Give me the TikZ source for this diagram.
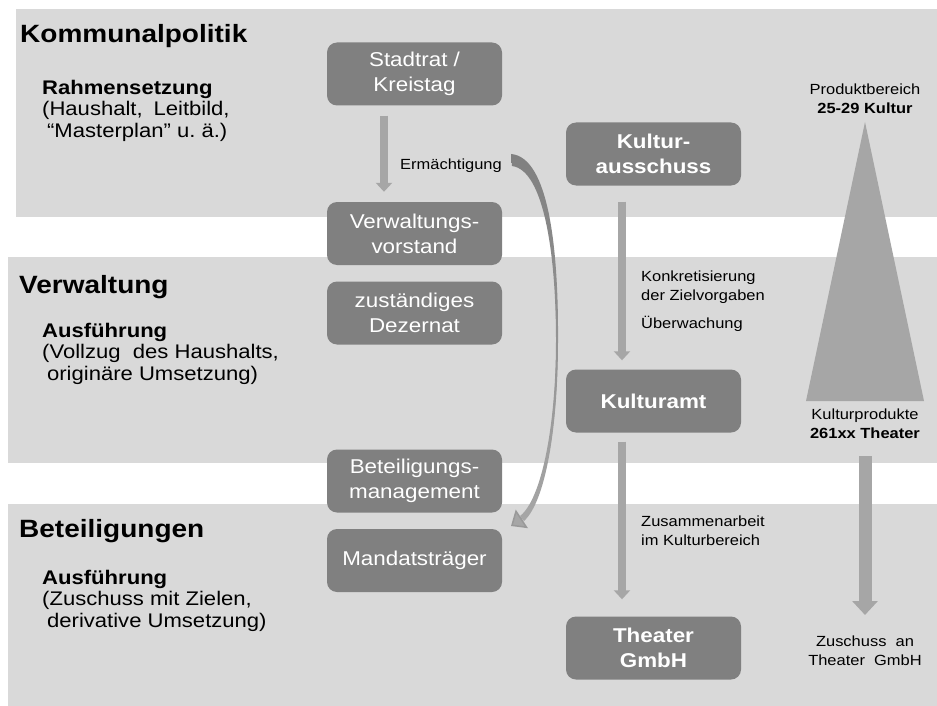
\documentclass[tikz,border=0pt]{standalone}
\usepackage{fontspec}
\setmainfont{Liberation Sans}[FakeStretch=1.12]
\usepackage{xcolor}
\usetikzlibrary{arrows.meta}

\definecolor{bandgray}{HTML}{D9D9D9}
\definecolor{boxgray}{HTML}{808080}
\definecolor{arrowgray}{HTML}{A6A6A6}
\definecolor{curvegray}{HTML}{999999}

\begin{document}
\begin{tikzpicture}[x=1pt, y=-1pt,
    box/.style={rectangle, rounded corners=10pt, fill=boxgray, text=white, minimum width=175pt, minimum height=63pt, align=center, inner sep=2pt, font=\fontsize{20}{25}\selectfont},
    boldbox/.style={box, font=\fontsize{20}{25}\selectfont\bfseries},
    title/.style={anchor=base west, inner sep=0pt, font=\fontsize{25}{30}\selectfont\bfseries},
    remark/.style={anchor=north west, inner sep=0pt, align=left, font=\fontsize{19.7}{21.5}\selectfont},
    note/.style={inner sep=0pt, align=left, font=\fontsize{14.7}{19}\selectfont},
    flow/.style={arrowgray, line width=7.5pt, -{Triangle[width=16pt,length=9pt]}},
  ]
    \useasboundingbox (0,0) rectangle (937,706);

    % Ebenen
    \fill[bandgray] (16,9) rectangle (937,217);
    \fill[bandgray] (8,257) rectangle (937,463);
    \fill[bandgray] (8,504) rectangle (937,706);

    % Produktpyramide
    \fill[arrowgray] (865,122) -- (924,401) -- (806,401) -- cycle;

    \node [title](kommunal) at (20,43) {Kommunalpolitik};
    \node [title](verwaltung) at (19,293) {Verwaltung};
    \node [title](beteiligungen) at (19,537) {Beteiligungen};

    \node [remark](rahmen) at (42,80) {\textbf{Rahmensetzung}\\(Haushalt,\hspace{0.55em}Leitbild,\\\hspace*{0.25em}“Masterplan” u.\ ä.)};
    \node [remark](vollzug) at (42,323) {\textbf{Ausführung}\\(Vollzug\ \ des Haushalts,\\\hspace*{0.25em}originäre Umsetzung)};
    \node [remark](zuschussziele) at (42,570) {\textbf{Ausführung}\\(Zuschuss mit Zielen,\\\hspace*{0.25em}derivative Umsetzung)};

    % linke Spalte
    \node [box](stadtrat) at (414.5,74) {Stadtrat /\\Kreistag};
    \node [box](vorstand) [below of = stadtrat, node distance = 159.5pt]{Verwaltungs-\\vorstand};
    \node [box](dezernat) [below of = vorstand, node distance = 79.5pt]{zuständiges\\Dezernat};
    \node [box](betmanagement) [below of = dezernat, node distance = 168pt]{Beteiligungs-\\management};
    \node [box](mandat) [below of = betmanagement, node distance = 79.5pt]{Mandatsträger};

    % mittlere Spalte
    \node [boldbox](ausschuss) at (653.5,154) {Kultur-\\ausschuss};
    \node [boldbox](amt) [below of = ausschuss, node distance = 247pt]{Kulturamt};
    \node [boldbox](theater) [below of = amt, node distance = 247pt]{Theater\\GmbH};

    \node [note, anchor=base west](erm) at (400,169) {Ermächtigung};
    \node [note, anchor=north west](konkret) at (641,271) {Konkretisierung\\der Zielvorgaben};
    \node [note, anchor=base west](ueberw) at (641,328) {Überwachung};
    \node [note, anchor=north west](zusammen) at (641,516) {Zusammenarbeit\\im Kulturbereich};
    \node [note, anchor=north, align=center](produktbereich) at (865,84) {Produktbereich\\\textbf{25-29 Kultur}};
    \node [note, anchor=north, align=center](kprod) at (865,409) {Kulturprodukte\\\textbf{261xx Theater}};
    \node [note, anchor=north, align=center](zuschuss) at (865,636) {Zuschuss\ \ an\\Theater\ \ GmbH};

    \draw[flow, shorten <=10pt, shorten >=10pt] ([xshift=-30.5pt]stadtrat.south) -- ([xshift=-30.5pt]vorstand.north);
    \draw[flow, shorten <=16pt, shorten >=9pt] ([xshift=-31.5pt]ausschuss.south) -- ([xshift=-31.5pt]amt.north);
    \draw[flow, shorten <=9pt, shorten >=17pt] ([xshift=-31.5pt]amt.south) -- ([xshift=-31.5pt]theater.north);
    \draw[flow, line width=13pt, -{Triangle[width=25pt,length=14pt]}, shorten <=17pt, shorten >=21pt] (kprod.south) -- (zuschuss.north);

    % Ermaechtigung: gebogener Pfeil
    \coordinate (ermfrom) at (512,160);
    \coordinate (ermto) at (511,526);
    \draw[curvegray, line width=1.5pt, -{Triangle[width=22pt,length=13pt,fill=arrowgray]}]
        (ermfrom) .. controls (547,163) and (557,250) .. (557,340)
        .. controls (557,430) and (543,505) .. (ermto);
    \shade[top color=boxgray, bottom color=arrowgray]
        (511,154) .. controls (549,157) and (558.5,250) .. (558,340)
        .. controls (558,430) and (545,502) .. (524,521) -- (520,516)
        .. controls (541,500) and (556,428) .. (556,340)
        .. controls (556,255) and (544,170) .. (512,166) -- cycle;
\end{tikzpicture}
\end{document}
